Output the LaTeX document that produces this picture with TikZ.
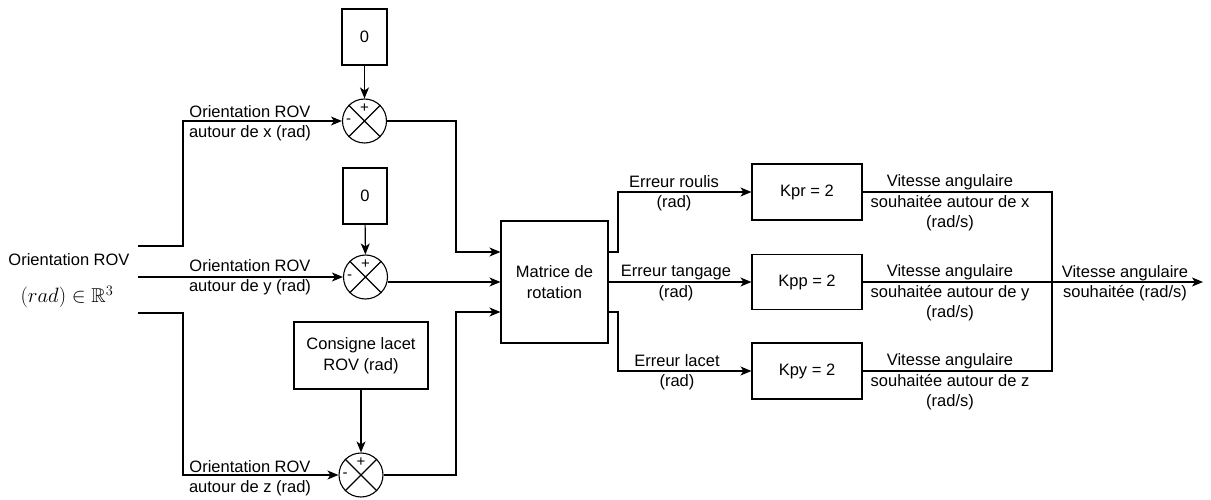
\documentclass[tikz,border=0pt]{standalone}
\usepackage{amssymb}
\usepackage{fontspec}
\setmainfont{Liberation Sans}
\usetikzlibrary{arrows.meta,calc}
\begin{document}
\begin{tikzpicture}[x=1pt,y=-1pt,
  line width=1.1pt,
  every node/.style={font=\fontsize{16.5}{20.5}\selectfont},
  arr/.style={-{Stealth[length=11pt,width=9pt,inset=3pt]}},
  blk/.style={draw,inner sep=0pt,align=center},
  sumnode/.style={draw,circle,minimum size=44pt,inner sep=0pt},
  lbl/.style={align=center,inner sep=0pt},
  sgn/.style={inner sep=0pt,font=\fontsize{15}{15}\selectfont}]
\useasboundingbox (0,0) rectangle (1211,500);

% blocks
\node[blk,minimum width=45pt,minimum height=56pt] (zA) at (364.5,37) {0};
\node[blk,minimum width=44pt,minimum height=56pt] (zB) at (365,196) {0};
\node[blk,minimum width=134pt,minimum height=67pt] (cons) at (361,355.5) {Consigne lacet\\ROV (rad)};
\node[blk,minimum width=107pt,minimum height=122pt] (mat) at (554.5,282) {Matrice de\\rotation};
\node[blk,minimum width=110pt,minimum height=56pt] (kpr) at (807,192) {Kpr = 2};
\node[blk,minimum width=110pt,minimum height=55pt] (kpp) at (807,282) {Kpp = 2};
\node[blk,minimum width=110pt,minimum height=56pt] (kpy) at (807,371) {Kpy = 2};

% summing junctions
\foreach \n/\x/\y in {s1/364.5/121, s2/365.5/277, s3/361/475}{
  \node[sumnode] (\n) at (\x,\y) {};
  \draw (\n.45) -- (\n.225) (\n.135) -- (\n.315);
  \node[sgn] at ([yshift=13pt]\n.center) {+};
  \node[sgn] at ([xshift=-16pt]\n.center) {-};
}

% left input
\node[lbl] (inA) at (69,260) {Orientation ROV};
\node[lbl,font=\fontsize{20}{20}\selectfont] (inB) at (67,297) {$(rad)\in\mathbb{R}^3$};
\coordinate (L1) at (138,246);
\coordinate (L2) at (138,277);
\coordinate (L3) at (138,313);
\coordinate (j) at (183,0);
\coordinate (v) at (456,0);
\coordinate (w) at (618,0);
\coordinate (r) at (1052,0);
\coordinate (out) at (1203,282);

\draw[arr] (L1) -- (L1 -| j) |- (s1.west);
\draw[arr] (L2) -- (s2.west);
\draw[arr] (L3) -- (L3 -| j) |- (s3.west);

\draw[arr] (zA) -- (s1);
\draw[arr] (zB) -- (s2);
\draw[arr] (cons.south -| s3) -- (s3);

% into matrix
\draw[arr] (s1.east) -- (s1.east -| v) |- ([yshift=30pt]mat.west);
\draw[arr] (s2.east |- mat.west) -- (mat.west);
\draw[arr] (s3.east) -- (s3.east -| v) |- ([yshift=-30pt]mat.west);

% out of matrix
\draw[arr] ([yshift=30pt]mat.east) -| (w |- kpr.west) -- (kpr.west);
\draw[arr] (mat.east) -- (kpp.west);
\draw[arr] ([yshift=-30pt]mat.east) -| (w |- kpy.west) -- (kpy.west);

% right side
\draw (kpr.east) -- (kpr.east -| r) -- (kpy.east -| r) -- (kpy.east);
\draw[arr] (kpp.east) -- (out);

% labels
\node[lbl] (lx) at (250,123) {Orientation ROV\\autour de x (rad)};
\node[lbl] (ly) at (250,277) {Orientation ROV\\autour de y (rad)};
\node[lbl] (lz) at (250,478) {Orientation ROV\\autour de z (rad)};
\node[lbl] (er) at (674,193) {Erreur roulis\\(rad)};
\node[lbl] (et) at (676,283) {Erreur tangage\\(rad)};
\node[lbl] (el) at (677,372) {Erreur lacet\\(rad)};
\node[lbl] (vx) at (950,203) {Vitesse angulaire\\souhaitée autour de x\\(rad/s)};
\node[lbl] (vy) at (950,293) {Vitesse angulaire\\souhaitée autour de y\\(rad/s)};
\node[lbl] (vz) at (950,382) {Vitesse angulaire\\souhaitée autour de z\\(rad/s)};
\node[lbl] (vo) at (1125,283) {Vitesse angulaire\\souhaitée (rad/s)};
\end{tikzpicture}
\end{document}
